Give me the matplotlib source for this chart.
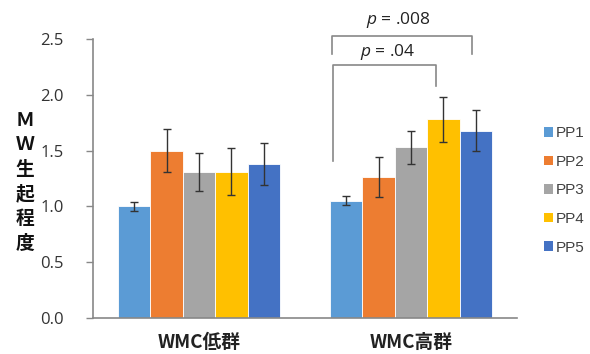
import numpy as np
import matplotlib
matplotlib.use("Agg")
import matplotlib.pyplot as plt
from matplotlib.patches import Patch

groups = ["WMC低群", "WMC高群"]
series = ["PP1", "PP2", "PP3", "PP4", "PP5"]
colors = ["#5B9BD5", "#ED7D31", "#A5A5A5", "#FFC000", "#4472C4"]
means = [[1.00, 1.50, 1.31, 1.31, 1.38],
         [1.05, 1.26, 1.53, 1.78, 1.68]]
errs = [[0.04, 0.19, 0.17, 0.21, 0.19],
        [0.04, 0.18, 0.15, 0.20, 0.18]]
yticks = [0.0, 0.5, 1.0, 1.5, 2.0, 2.5]
ylabel_chars = ["Ｍ", "Ｗ", "生", "起", "程", "度"]

plt.rcParams["mathtext.fontset"] = "custom"
plt.rcParams["mathtext.it"] = "Open Sans:italic"
plt.rcParams["mathtext.rm"] = "Open Sans"

W, H = 590, 354
fig = plt.figure(figsize=(W / 100, H / 100), dpi=100)
ax = fig.add_axes([93 / W, 1 - 318 / H, (517 - 93) / W, (318 - 39) / H])

bw = 0.153
x = np.arange(len(groups))
for i, (s, c) in enumerate(zip(series, colors)):
    xs = x + (i - 2) * bw
    ax.bar(xs, [m[i] for m in means], bw, color=c, edgecolor="white",
           linewidth=0.6, label=s, zorder=2)
    ax.errorbar(xs, [m[i] for m in means], yerr=[e[i] for e in errs],
                fmt="none", ecolor="#333333", elinewidth=1, capsize=3.2,
                capthick=1, zorder=3)

ax.set_xlim(-0.5, 1.5)
ax.set_ylim(0, 2.5)
ax.set_yticks(yticks)
ax.set_yticklabels([f"{t:.1f}" for t in yticks], fontsize=12, color="#333333",
                   family="Open Sans")
ax.tick_params(axis="y", length=5, width=1, color="#888888", pad=16)
ax.set_xticks(x)
ax.set_xticklabels(groups, fontsize=13.5, fontweight="bold",
                   family=["Noto Sans CJK JP", "DejaVu Sans"], color="#222222")
ax.tick_params(axis="x", length=0, pad=11)
for side in ["top", "right"]:
    ax.spines[side].set_visible(False)
for side in ["left", "bottom"]:
    ax.spines[side].set_color("#888888")
    ax.spines[side].set_linewidth(1.2)

# significance brackets over WMC高群
g2 = x[1] + (np.arange(5) - 2) * bw
inner_x0, inner_x1 = g2[0] - 0.06, g2[3] - 0.037
outer_x0, outer_x1 = g2[0] - 0.068, g2[4] - 0.02
ax.plot([inner_x0, inner_x0, inner_x1, inner_x1], [1.41, 2.27, 2.27, 2.08],
        color="#888888", lw=1.2, clip_on=False)
ax.plot([outer_x0, outer_x0, outer_x1, outer_x1], [2.37, 2.53, 2.53, 2.37],
        color="#888888", lw=1.2, clip_on=False)
ax.text(0.889, 2.38, "$p$ = .04", ha="center", va="center", fontsize=12.5,
        family="Open Sans", color="#222222")
ax.text(0.941, 2.67, "$p$ = .008", ha="center", va="center", fontsize=12.5,
        family="Open Sans", color="#222222", clip_on=False)

# vertical y label
for k, ch in enumerate(ylabel_chars):
    fig.text(25 / W, 1 - (120 + k * 24.6) / H, ch, ha="center", va="center",
             fontsize=13.5, fontweight="bold",
             family=["Noto Sans CJK JP", "DejaVu Sans"], color="#111111")

handles = [Patch(facecolor=c) for c in colors]
fig.legend(handles, series, loc="center left", bbox_to_anchor=(544 / W, 1 - 190.5 / H),
           frameon=False, prop={"family": "Liberation Sans", "size": 11},
           handlelength=0.6, handleheight=0.6, handletextpad=0.2,
           labelspacing=0.95, borderpad=0, borderaxespad=0, labelcolor="#404040")

fig.savefig("out.png", dpi=100)
